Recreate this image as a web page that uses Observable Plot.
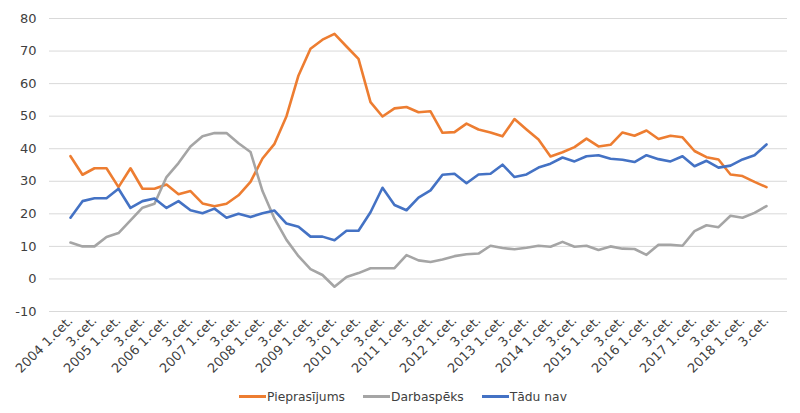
<!DOCTYPE html>
<html>
<head>
<meta charset="utf-8">
<script src="https://cdn.jsdelivr.net/npm/d3@7"></script>
<script src="https://cdn.jsdelivr.net/npm/@observablehq/plot@0.6"></script>
<style>
  html, body { margin: 0; padding: 0; background: #fff; }
  #chart { width: 800px; }
  .legend { display: flex; justify-content: center; align-items: center; gap: 18px;
            font-family: "DejaVu Sans", Verdana, sans-serif; font-size: 12.3px; color: #404040;
            height: 33px; margin-top: 0; padding-left: 6px; }
  .legend span.item { display: flex; align-items: center; }
  .legend span.sw { display: inline-block; width: 27px; height: 3px; margin-right: 1px; }
</style>
</head>
<body>
<div id="chart"></div>
<script>
// Quarters from 2004 Q1 to 2018 Q3
const years = [2004, 2005, 2006, 2007, 2008, 2009, 2010, 2011, 2012, 2013, 2014, 2015, 2016, 2017, 2018];
const quarterSuffix = ["1.cet.", "2.cet.", "3.cet.", "4.cet."];
const quarters = years.flatMap(y => quarterSuffix.map(q => `${y} ${q}`)).slice(0, 59);

const seriesNames = ["Pieprasījums", "Darbaspēks", "Tādu nav"];
const seriesColors = ["#ED7D31", "#A5A5A5", "#4472C4"];

const pieprasijums = [
  37.7, 32, 34, 34, 28.2, 34, 27.7, 27.7, 29, 26, 27, 23.2,
  22.3, 23.1, 25.7, 29.8, 37, 41.5, 50, 62.5, 70.7, 73.5, 75.3, 71.4,
  67.6, 54.3, 49.9, 52.4, 52.8, 51.2, 51.5, 44.9, 45.1, 47.7, 45.9, 45,
  43.8, 49.1, 45.9, 42.8, 37.6, 38.9, 40.5, 43.1, 40.7, 41.2, 45, 44,
  45.6, 43, 44, 43.5, 39.3, 37.4, 36.7, 32.1, 31.6, 29.8, 28.2
];
const darbaspeks = [
  11.2, 10, 10, 12.9, 14.1, 18, 21.9, 23.1, 31.3, 35.6, 40.7, 43.8,
  44.8, 44.8, 41.7, 39, 27, 18.5, 12, 7, 3, 1.2, -2.4, 0.6,
  1.8, 3.3, 3.3, 3.3, 7.3, 5.7, 5.2, 6, 7, 7.6, 7.8, 10.2,
  9.5, 9.1, 9.6, 10.2, 9.9, 11.4, 9.9, 10.2, 8.9, 10, 9.3, 9.2,
  7.4, 10.5, 10.5, 10.2, 14.7, 16.5, 15.9, 19.4, 18.8, 20.3, 22.4
];
const taduNav = [
  18.8, 23.9, 24.8, 24.8, 27.7, 21.8, 23.9, 24.7, 21.8, 23.9, 21.1, 20.2,
  21.6, 18.8, 20, 19, 20.2, 21, 17, 16, 13, 13, 11.9, 14.8,
  14.8, 20.5, 28, 22.7, 21.1, 25, 27.2, 32, 32.3, 29.4, 32.1, 32.3,
  35.1, 31.3, 32.1, 34.2, 35.4, 37.3, 36.1, 37.7, 38, 36.9, 36.6, 35.9,
  38, 36.8, 36.1, 37.7, 34.6, 36.3, 34.2, 34.8, 36.7, 38, 41.3
];

const seriesValues = [pieprasijums, darbaspeks, taduNav];
const rows = seriesNames.flatMap((name, s) =>
  quarters.map((q, i) => ({series: name, quarter: q, value: seriesValues[s][i]}))
);

// Label every other quarter: year with Q1, bare "3.cet." for Q3
const tickQuarters = quarters.filter(q => q.endsWith("1.cet.") || q.endsWith("3.cet."));
const tickLabel = q => q.endsWith("1.cet.") ? q : q.slice(5);
const yTicks = d3.range(-10, 81, 10);

const chart = Plot.plot({
  width: 800,
  height: 380,
  marginTop: 18,
  marginLeft: 49,
  marginRight: 13,
  marginBottom: 69,
  style: {fontFamily: "DejaVu Sans, Verdana, sans-serif", fontSize: "13px", color: "#404040", background: "#fff"},
  x: {type: "point", domain: quarters, padding: 0.5, label: null},
  y: {domain: [-10, 80], label: null},
  color: {domain: seriesNames, range: seriesColors},
  marks: [
    Plot.gridY(yTicks, {stroke: "#d9d9d9", strokeOpacity: 1, strokeWidth: 1}),
    Plot.axisY(yTicks, {tickSize: 0, tickPadding: 13, label: null, fontSize: 13, tickFormat: d => String(d)}),
    Plot.axisX(tickQuarters, {tickSize: 0, tickPadding: 7, tickRotate: -45, tickFormat: tickLabel, label: null, fontSize: 13}),
    Plot.line(rows, {x: "quarter", y: "value", z: "series", stroke: "series",
                     strokeWidth: 2.6, strokeLinejoin: "round", strokeLinecap: "round"})
  ]
});
document.getElementById("chart").appendChild(chart);

// Legend below the plot
const legend = document.createElement("div");
legend.className = "legend";
seriesNames.forEach((name, i) => {
  const item = document.createElement("span");
  item.className = "item";
  const sw = document.createElement("span");
  sw.className = "sw";
  sw.style.background = seriesColors[i];
  item.appendChild(sw);
  item.appendChild(document.createTextNode(name));
  legend.appendChild(item);
});
document.getElementById("chart").appendChild(legend);
</script>
</body>
</html>
